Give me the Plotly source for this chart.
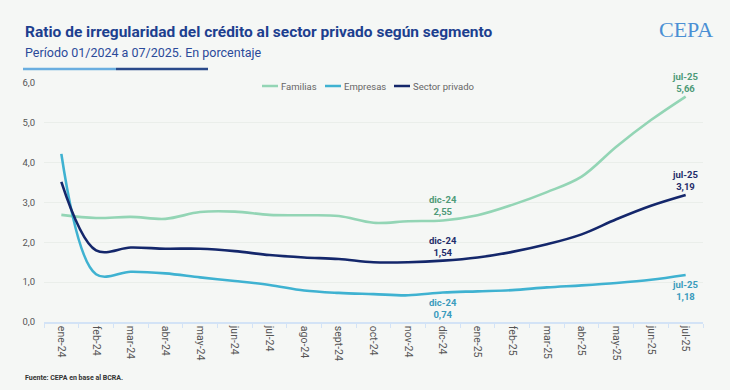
import plotly.graph_objects as go

months = ["ene-24", "feb-24", "mar-24", "abr-24", "may-24", "jun-24", "jul-24", "ago-24",
          "sept-24", "oct-24", "nov-24", "dic-24", "ene-25", "feb-25", "mar-25", "abr-25",
          "may-25", "jun-25", "jul-25"]
familias = [2.69, 2.61, 2.64, 2.59, 2.76, 2.77, 2.69, 2.68, 2.66, 2.49, 2.53, 2.55,
            2.68, 2.94, 3.26, 3.65, 4.40, 5.07, 5.66]
empresas = [4.22, 1.20, 1.26, 1.22, 1.12, 1.03, 0.93, 0.79, 0.73, 0.70, 0.67, 0.74,
            0.77, 0.80, 0.87, 0.92, 0.98, 1.06, 1.18]
sector = [3.52, 1.80, 1.87, 1.84, 1.84, 1.78, 1.68, 1.62, 1.58, 1.50, 1.50, 1.54,
          1.62, 1.76, 1.95, 2.20, 2.58, 2.92, 3.19]
series_names = ["Familias", "Empresas", "Sector privado"]

C_FAM = "#93d5b5"
C_EMP = "#3fb2d1"
C_SEC = "#14276b"
L_FAM = "#4e9a78"
L_EMP = "#3a9bbd"
L_SEC = "#1f2d6b"
BG = "#f5f7f5"

W, H = 730, 390
ML, MR, MT, MB = 44, 27, 83, 68
PW, PH = W - ML - MR, H - MT - MB

def px(x):
    return (x - ML) / PW

def py(y):
    return (H - MB - y) / PH

fig = go.Figure()
for name, vals, col in [(series_names[0], familias, C_FAM), (series_names[1], empresas, C_EMP),
                        (series_names[2], sector, C_SEC)]:
    fig.add_trace(go.Scatter(x=months, y=vals, name=name, mode="lines", showlegend=False,
                             line=dict(color=col, width=2.6, shape="spline", smoothing=1.0)))

annos = []
def lab(idx, vals, color, above):
    v = vals[idx]
    annos.append(dict(x=months[idx], y=v, xref="x", yref="y",
                      text="<b>%s<br>%s</b>" % (months[idx], ("%.2f" % v).replace(".", ",")),
                      showarrow=False, font=dict(family="Roboto", size=9.5, color=color),
                      yanchor="bottom" if above else "top",
                      yshift=1 if above else -2, align="center"))

lab(11, familias, L_FAM, True)
lab(11, sector, L_SEC, True)
lab(11, empresas, L_EMP, False)
lab(18, familias, L_FAM, True)
lab(18, sector, L_SEC, True)
lab(18, empresas, L_EMP, False)

annos.append(dict(x=px(23), y=py(32), xref="paper", yref="paper", xanchor="left", yanchor="middle",
                  text="<b>Ratio de irregularidad del crédito al sector privado según segmento</b>",
                  showarrow=False, font=dict(family="Roboto", size=15.5, color="#1d3f8f")))
annos.append(dict(x=px(23), y=py(52), xref="paper", yref="paper", xanchor="left", yanchor="middle",
                  text="Período 01/2024 a 07/2025. En porcentaje",
                  showarrow=False, font=dict(family="Roboto", size=12.5, color="#2b4a9a")))
annos.append(dict(x=px(23), y=py(378), xref="paper", yref="paper", xanchor="left", yanchor="middle",
                  text="<b>Fuente: CEPA en base al BCRA.</b>",
                  showarrow=False, font=dict(family="Roboto", size=7, color="#333333")))
annos.append(dict(x=px(686), y=py(30), xref="paper", yref="paper", xanchor="center", yanchor="middle",
                  text="CEPA", showarrow=False,
                  font=dict(family="Liberation Serif", size=22, color="#4a8fd4")))

shapes = [
    dict(type="line", xref="paper", yref="paper", x0=px(23), x1=px(116), y0=py(69), y1=py(69),
         line=dict(color="#6aaee0", width=2.5)),
    dict(type="line", xref="paper", yref="paper", x0=px(116), x1=px(208), y0=py(69), y1=py(69),
         line=dict(color="#2a4a8a", width=2.5)),
]

# custom compact legend
leg = [(series_names[0], C_FAM, 262, 278), (series_names[1], C_EMP, 325, 341),
       (series_names[2], C_SEC, 394, 410)]
for name, col, x0, x1 in leg:
    shapes.append(dict(type="line", xref="paper", yref="paper", x0=px(x0), x1=px(x1),
                       y0=py(86), y1=py(86), line=dict(color=col, width=2.5)))
    annos.append(dict(x=px(x1 + 1), y=py(86), xref="paper", yref="paper", xanchor="left",
                      yanchor="middle", text=name, showarrow=False,
                      font=dict(family="Roboto", size=9.5, color="#666666")))

fig.update_layout(
    width=W, height=H,
    margin=dict(l=ML, r=MR, t=MT, b=MB),
    paper_bgcolor=BG, plot_bgcolor=BG,
    font=dict(family="Roboto", color="#555555"),
    separators=",.",
    showlegend=False,
    annotations=annos,
    shapes=shapes,
    xaxis=dict(type="category", tickangle=90, tickfont=dict(size=10.5, color="#555555"),
               showgrid=False, showline=True, linecolor="#d3e3f6", linewidth=1.5,
               ticks="outside", tickson="boundaries", ticklen=4, tickcolor="#d3e3f6",
               range=[-0.5, 18.5], zeroline=False),
    yaxis=dict(range=[0, 6], dtick=1, tickformat=".1f", tickfont=dict(size=9.5, color="#555555"),
               showgrid=True, gridcolor="#eaeeea", gridwidth=1, zeroline=False,
               showline=False, ticklabelstandoff=8),
)

fig.write_html("out.html", config={"displayModeBar": False},
               post_script="document.body.style.margin='0';document.body.style.background='%s';" % BG)
